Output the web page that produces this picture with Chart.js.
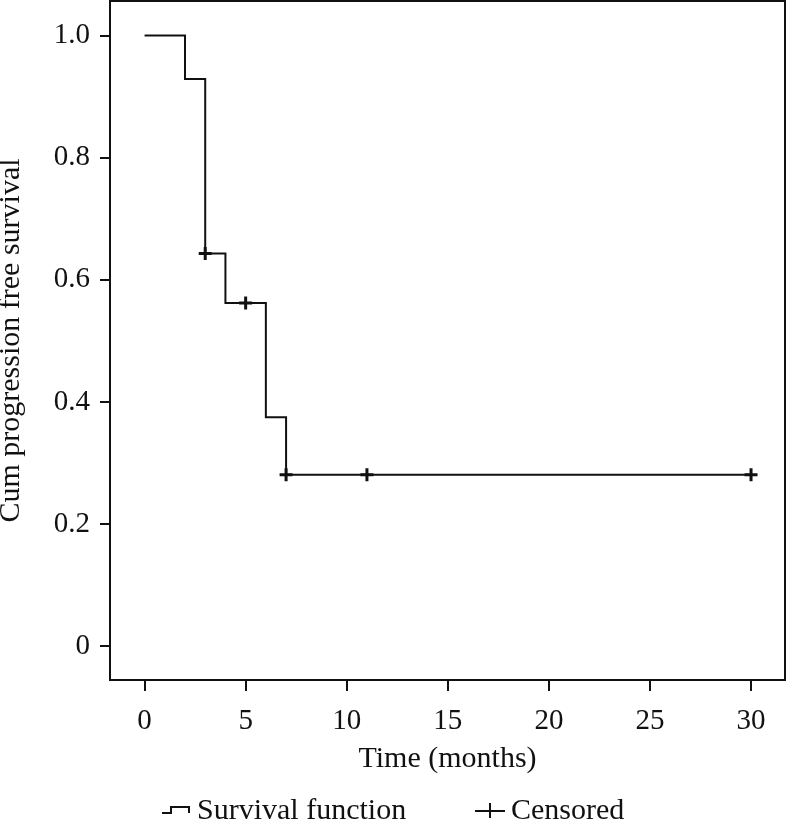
<!DOCTYPE html>
<html>
<head>
<meta charset="utf-8">
<script src="https://cdn.jsdelivr.net/npm/chart.js@4.4.1/dist/chart.umd.min.js"></script>
<style>
  body { margin: 0; background: #fff; }
  #chart { display: block; }
</style>
</head>
<body>
<canvas id="chart" width="786" height="822"></canvas>
<script>
// step curve (time in months, cumulative survival)
const stepTimes = [0, 2, 3, 4, 6, 7, 30];
const stepSurvival = [1.0, 0.929, 0.643, 0.562, 0.375, 0.281, 0.281];

// censored marks
const censorTimes = [3, 5, 7, 11, 30];
const censorSurvival = [0.643, 0.562, 0.281, 0.281, 0.281];

const xTicks = [0, 5, 10, 15, 20, 25, 30];
const yTicks = [0, 0.2, 0.4, 0.6, 0.8, 1.0];
const yTickLabels = ['0', '0.2', '0.4', '0.6', '0.8', '1.0'];

const legendLabels = ['Survival function', 'Censored'];

const FONT = 'Liberation Serif';
const INK = '#111';

const framePlugin = {
    id: 'frame',
    afterDraw(chart) {
        const ctx = chart.ctx;
        const a = chart.chartArea;
        ctx.save();
        ctx.strokeStyle = INK;
        ctx.lineWidth = 2;
        ctx.strokeRect(a.left, a.top, a.right - a.left, a.bottom - a.top);

        // legend at the bottom
        ctx.beginPath();
        ctx.moveTo(162, 813);
        ctx.lineTo(171, 813);
        ctx.lineTo(171, 807);
        ctx.lineTo(189, 807);
        ctx.lineTo(189, 813);
        ctx.stroke();

        ctx.beginPath();
        ctx.moveTo(475, 811);
        ctx.lineTo(505, 811);
        ctx.moveTo(490, 803);
        ctx.lineTo(490, 818);
        ctx.stroke();

        ctx.fillStyle = INK;
        ctx.font = '30px "' + FONT + '"';
        ctx.textBaseline = 'alphabetic';
        ctx.textAlign = 'left';
        ctx.fillText(legendLabels[0], 197, 819);
        ctx.fillText(legendLabels[1], 511, 819);
        ctx.restore();
    }
};

const ctx = document.getElementById('chart').getContext('2d');
const chart = new Chart(ctx, {
    type: 'line',
    data: {
        datasets: [{
            label: legendLabels[0],
            data: stepTimes.map((t, i) => ({ x: t, y: stepSurvival[i] })),
            stepped: true,
            borderColor: INK,
            borderWidth: 2,
            pointRadius: 0,
            fill: false
        }, {
            label: legendLabels[1],
            data: censorTimes.map((t, i) => ({ x: t, y: censorSurvival[i] })),
            showLine: false,
            pointStyle: 'cross',
            pointRadius: 6.5,
            pointBorderWidth: 3,
            pointBorderColor: INK,
            pointBackgroundColor: INK
        }]
    },
    options: {
        responsive: false,
        animation: false,
        layout: { autoPadding: false, padding: { left: 0, right: 1, top: 1, bottom: 42 } },
        plugins: {
            legend: { display: false },
            tooltip: { enabled: false }
        },
        scales: {
            x: {
                type: 'linear',
                min: -1.71,
                max: 31.68,
                afterBuildTicks: s => { s.ticks = xTicks.map(v => ({ value: v })); },
                afterFit: s => { s.height = 100; s.paddingLeft = 0; s.paddingRight = 0; },
                grid: {
                    drawOnChartArea: false,
                    drawTicks: true,
                    tickLength: 11,
                    color: INK,
                    lineWidth: 2
                },
                border: { display: false },
                ticks: {
                    autoSkip: false,
                    maxRotation: 0,
                    padding: 13,
                    color: INK,
                    font: { family: FONT, size: 29 }
                },
                title: {
                    display: true,
                    text: 'Time (months)',
                    color: INK,
                    font: { family: FONT, size: 30 },
                    padding: { top: 0, bottom: 3 }
                }
            },
            y: {
                type: 'linear',
                min: -0.0553,
                max: 1.0567,
                afterBuildTicks: s => { s.ticks = yTicks.map(v => ({ value: v })); },
                afterFit: s => { s.width = 110; s.paddingTop = 0; s.paddingBottom = 0; },
                grid: {
                    drawOnChartArea: false,
                    drawTicks: true,
                    tickLength: 10,
                    color: INK,
                    lineWidth: 2
                },
                border: { display: false },
                ticks: {
                    padding: 10,
                    color: INK,
                    font: { family: FONT, size: 29 },
                    callback: v => yTickLabels[yTicks.indexOf(v)]
                },
                title: {
                    display: true,
                    text: 'Cum progression free survival',
                    color: INK,
                    font: { family: FONT, size: 30, lineHeight: 0.77 },
                    padding: { top: 0, bottom: 0 }
                }
            }
        }
    },
    plugins: [framePlugin]
});
</script>
</body>
</html>
